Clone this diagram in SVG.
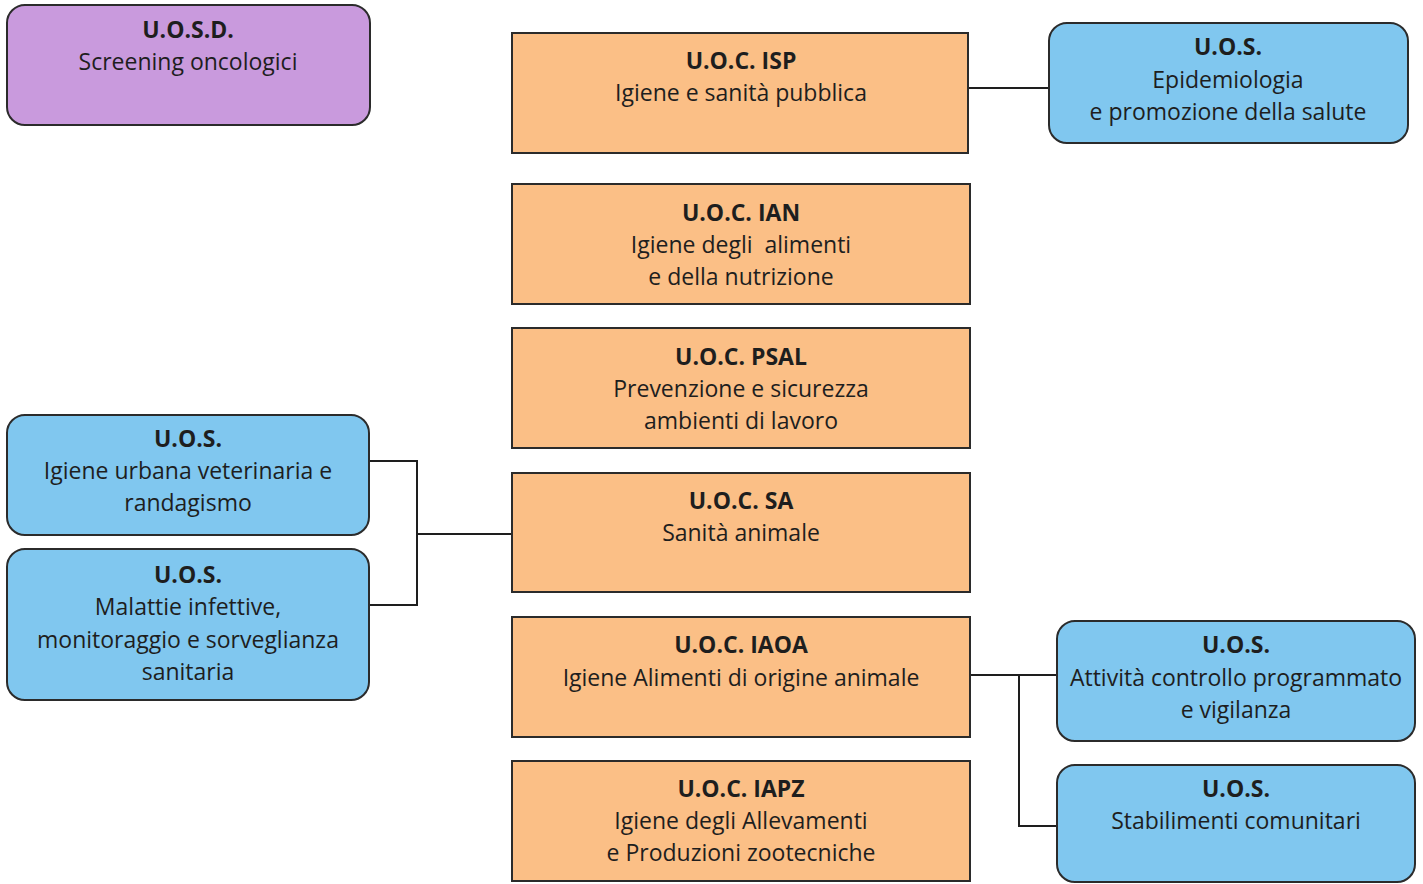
<svg xmlns="http://www.w3.org/2000/svg" width="1423" height="884" viewBox="0 0 1423 884">
<style>
text{font-family:"Open Sans","Noto Sans",sans-serif;font-size:23px;fill:#1e1e1e;text-anchor:middle}
.b{font-weight:bold}
.purple{fill:#c99add;stroke:#2b2b2b;stroke-width:2}
.orange{fill:#fbbf86;stroke:#2b2b2b;stroke-width:2}
.blue{fill:#80c7ef;stroke:#2b2b2b;stroke-width:2}
.conn{fill:none;stroke:#1e1e1e;stroke-width:2}
</style>
<rect width="1423" height="884" fill="#ffffff"/>
<g id="connectors">
<path class="conn" d="M968,88 H1049"/>
<path class="conn" d="M369,461 H417 V605 H369 M417,534 H512"/>
<path class="conn" d="M970,675 H1057 M1019,675 V826 H1057"/>
</g>
<g id="uosd-screening">
<rect class="purple" x="7" y="5" width="363" height="120" rx="18"/>
<text x="188" y="38" class="b">U.O.S.D.</text>
<text x="188" y="70">Screening oncologici</text>
</g>
<g id="uoc-isp">
<rect class="orange" x="512" y="33" width="456" height="120"/>
<text x="741" y="69" class="b">U.O.C. ISP</text>
<text x="741" y="101">Igiene e sanità pubblica</text>
</g>
<g id="uos-epidemiologia">
<rect class="blue" x="1049" y="23" width="359" height="120" rx="18"/>
<text x="1228" y="55" class="b">U.O.S.</text>
<text x="1228" y="88">Epidemiologia</text>
<text x="1228" y="120">e promozione della salute</text>
</g>
<g id="uoc-ian">
<rect class="orange" x="512" y="184" width="458" height="120"/>
<text x="741" y="221" class="b">U.O.C. IAN</text>
<text x="741" y="253" xml:space="preserve">Igiene degli  alimenti</text>
<text x="741" y="285">e della nutrizione</text>
</g>
<g id="uoc-psal">
<rect class="orange" x="512" y="328" width="458" height="120"/>
<text x="741" y="365" class="b">U.O.C. PSAL</text>
<text x="741" y="397">Prevenzione e sicurezza</text>
<text x="741" y="429">ambienti di lavoro</text>
</g>
<g id="uoc-sa">
<rect class="orange" x="512" y="473" width="458" height="119"/>
<text x="741" y="509" class="b">U.O.C. SA</text>
<text x="741" y="541">Sanità animale</text>
</g>
<g id="uoc-iaoa">
<rect class="orange" x="512" y="617" width="458" height="120"/>
<text x="741" y="653" class="b">U.O.C. IAOA</text>
<text x="741" y="686">Igiene Alimenti di origine animale</text>
</g>
<g id="uoc-iapz">
<rect class="orange" x="512" y="761" width="458" height="120"/>
<text x="741" y="797" class="b">U.O.C. IAPZ</text>
<text x="741" y="829">Igiene degli Allevamenti</text>
<text x="741" y="861">e Produzioni zootecniche</text>
</g>
<g id="uos-igiene-urbana">
<rect class="blue" x="7" y="415" width="362" height="120" rx="18"/>
<text x="188" y="447" class="b">U.O.S.</text>
<text x="188" y="479">Igiene urbana veterinaria e</text>
<text x="188" y="511">randagismo</text>
</g>
<g id="uos-malattie">
<rect class="blue" x="7" y="549" width="362" height="151" rx="18"/>
<text x="188" y="583" class="b">U.O.S.</text>
<text x="188" y="615">Malattie infettive,</text>
<text x="188" y="648">monitoraggio e sorveglianza</text>
<text x="188" y="680">sanitaria</text>
</g>
<g id="uos-attivita">
<rect class="blue" x="1057" y="621" width="358" height="120" rx="18"/>
<text x="1236" y="653" class="b">U.O.S.</text>
<text x="1236" y="686">Attività controllo programmato</text>
<text x="1236" y="718">e vigilanza</text>
</g>
<g id="uos-stabilimenti">
<rect class="blue" x="1057" y="765" width="358" height="117" rx="18"/>
<text x="1236" y="797" class="b">U.O.S.</text>
<text x="1236" y="829">Stabilimenti comunitari</text>
</g>
</svg>
